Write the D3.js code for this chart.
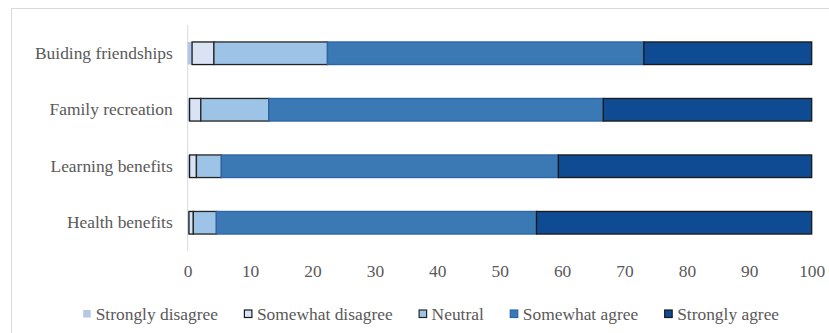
<!DOCTYPE html>
<html><head><meta charset="utf-8">
<script src="https://cdn.jsdelivr.net/npm/d3@7"></script>
<style>html,body{margin:0;padding:0;background:#fff;}svg{display:block;}
svg text{font-family:"Liberation Serif","Times New Roman",Times,Tinos,"DejaVu Serif",serif !important;}</style>
</head><body>
<svg id="chart" width="829" height="333"></svg>
<script>
const categories = ["Buiding friendships", "Family recreation", "Learning benefits", "Health benefits"];
const seriesNames = ["Strongly disagree", "Somewhat disagree", "Neutral", "Somewhat agree", "Strongly agree"];
const stronglyDisagree = [0.7, 0.3, 0.3, 0.2];
const somewhatDisagree = [3.5, 1.8, 1.1, 0.7];
const neutral = [18.2, 10.9, 4.0, 3.7];
const somewhatAgree = [50.7, 53.6, 54.0, 51.3];
const stronglyAgree = [26.9, 33.4, 40.6, 44.1];
const xTicks = [0, 10, 20, 30, 40, 50, 60, 70, 80, 90, 100];

const fills = ["#b4c7e7", "#dae3f3", "#9dc3e6", "#3b79b5", "#0f4b92"];
const strokes = [null, "#1a1a1a", "#262626", "#2d64a8", "#1a1a1a"];
const fontSize = 17.4;

const svg = d3.select("#chart");
svg.append("rect").attr("x", 11.5).attr("y", 8.5).attr("width", 840).attr("height", 340)
  .attr("fill", "none").attr("stroke", "#d9d9d9").attr("stroke-width", 1);

const x = d3.scaleLinear().domain([0, 100]).range([187.7, 811.7]);
const y = d3.scaleBand().domain(categories).range([25, 251]).paddingInner(0.6).paddingOuter(0.3);

const values = [stronglyDisagree, somewhatDisagree, neutral, somewhatAgree, stronglyAgree];
const rows = categories.map((c, i) => {
  const o = {cat: c};
  seriesNames.forEach((s, j) => o[s] = values[j][i]);
  return o;
});
const stacked = d3.stack().keys(seriesNames)(rows);

svg.append("line").attr("x1", x(0)).attr("x2", x(0)).attr("y1", 25).attr("y2", 251)
  .attr("stroke", "#d9d9d9").attr("stroke-width", 1);

stacked.forEach((layer, j) => {
  svg.append("g").selectAll("rect").data(layer).join("rect")
    .attr("x", d => x(d[0]))
    .attr("y", d => y(d.data.cat))
    .attr("width", d => x(d[1]) - x(d[0]))
    .attr("height", y.bandwidth())
    .attr("fill", fills[j])
    .attr("stroke", strokes[j] || "none")
    .attr("stroke-width", strokes[j] ? 1.3 : 0);
});

const xAxis = d3.axisBottom(x).tickValues(xTicks).tickSize(0).tickPadding(0).tickFormat(d3.format("d"));
const gx = svg.append("g").attr("transform", "translate(0,264.6)").call(xAxis);
gx.select(".domain").remove();
gx.selectAll("text").attr("font-size", fontSize).attr("fill", "#595959");

const yAxis = d3.axisLeft(y).tickSize(0).tickPadding(15);
const gy = svg.append("g").attr("transform", `translate(${x(0)},0)`).call(yAxis);
gy.select(".domain").remove();
gy.selectAll("text").attr("font-size", fontSize).attr("fill", "#595959");

const legend = svg.append("g");
let lx = 82.7;
seriesNames.forEach((s, j) => {
  const g = legend.append("g").attr("transform", `translate(${lx},0)`);
  g.append("rect").attr("x", 0.5).attr("y", 310).attr("width", 7.5).attr("height", 7.5)
    .attr("fill", fills[j]).attr("stroke", strokes[j] || "none").attr("stroke-width", strokes[j] ? 1.2 : 0);
  const t = g.append("text").attr("x", 13).attr("y", 319.5).text(s)
    .attr("font-size", fontSize).attr("fill", "#595959");
  lx += 13 + t.node().getComputedTextLength() + 26;
});
</script>
</body></html>
